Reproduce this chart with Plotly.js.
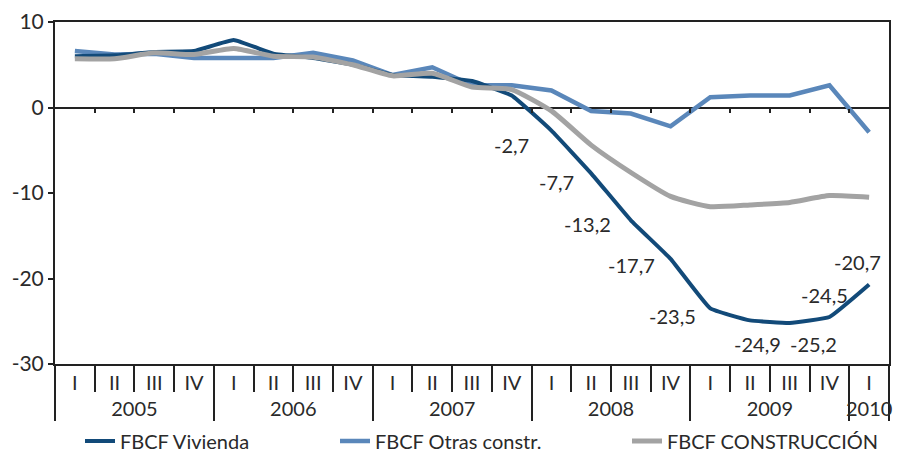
<!DOCTYPE html>
<html>
<head>
<meta charset="utf-8">
<script src="https://cdn.plot.ly/plotly-3.0.1.min.js"></script>
<style>html,body{margin:0;padding:0;background:#fff;}#chart{width:901px;height:454px;}</style>
</head>
<body>
<div id="chart"></div>
<script>
// ---- data ----
var years    = ['2005','2005','2005','2005','2006','2006','2006','2006','2007','2007','2007','2007','2008','2008','2008','2008','2009','2009','2009','2009','2010'];
var quarters = ['I','II','III','IV','I','II','III','IV','I','II','III','IV','I','II','III','IV','I','II','III','IV','I'];
var vivienda     = [6.0, 6.1, 6.5, 6.6, 7.9, 6.3, 5.8, 5.0, 3.8, 3.6, 3.1, 1.4, -2.7, -7.7, -13.2, -17.7, -23.5, -24.9, -25.2, -24.5, -20.7];
var otras        = [6.6, 6.2, 6.3, 5.8, 5.8, 5.8, 6.4, 5.5, 3.8, 4.7, 2.6, 2.6, 2.0, -0.4, -0.7, -2.2, 1.2, 1.4, 1.4, 2.6, -2.9];
var construccion = [5.7, 5.7, 6.4, 6.2, 6.9, 6.0, 5.9, 5.0, 3.7, 4.0, 2.4, 2.1, -0.4, -4.4, -7.6, -10.4, -11.6, -11.4, -11.1, -10.3, -10.5];
var seriesNames  = ['FBCF Vivienda', 'FBCF Otras constr.', 'FBCF CONSTRUCCIÓN'];
var yTickVals    = [-30, -20, -10, 0, 10];
var yTickText    = ['-30', '-20', '-10', '0', '10'];
var labelIdx     = [12, 13, 14, 15, 16, 17, 18, 19, 20];
var labelText    = ['-2,7', '-7,7', '-13,2', '-17,7', '-23,5', '-24,9', '-25,2', '-24,5', '-20,7'];
var labelDx      = [-40, -35, -43, -39, -38, 7, 24, -5, -12];
var labelDy      = [-14, -9, -4, -6, -8, -24, -21, 22, 22];

var FONT = 'Lato, "Open Sans", sans-serif';
var TXT = '#2a2a2a';
var FS = 20;

var traces = [
  {x: [years, quarters], y: otras, name: seriesNames[1], type: 'scatter', mode: 'lines',
   line: {color: '#5a87ba', width: 4.5}, legend: 'legend2', hoverinfo: 'skip'},
  {x: [years, quarters], y: vivienda, name: seriesNames[0], type: 'scatter', mode: 'lines',
   line: {color: '#124a79', width: 4, shape: 'spline', smoothing: 0.3}, legend: 'legend', hoverinfo: 'skip'},
  {x: [years, quarters], y: construccion, name: seriesNames[2], type: 'scatter', mode: 'lines',
   line: {color: '#a3a3a3', width: 5, shape: 'spline', smoothing: 0.5}, legend: 'legend3', hoverinfo: 'skip'},
  {x: [], y: [], xaxis: 'x2', yaxis: 'y', showlegend: false, hoverinfo: 'skip', type: 'scatter'}
];

var n = quarters.length;
var bounds = [];
for (var i = 0; i < n - 1; i++) bounds.push(i + 0.5);

var annotations = labelIdx.map(function (idx, k) {
  return {xref: 'x2', yref: 'y', x: idx, y: vivienda[idx], text: labelText[k], showarrow: false,
          xshift: labelDx[k], yshift: labelDy[k], font: {family: FONT, size: FS, color: TXT}};
});

function legendAt(px) {
  return {orientation: 'h', x: (px - 55) / 834, xanchor: 'left',
          yref: 'container', y: (454 - 441) / 454, yanchor: 'middle',
          font: {family: FONT, size: FS, color: TXT}, bgcolor: 'rgba(0,0,0,0)', borderwidth: 0};
}

var layout = {
  width: 901, height: 454,
  margin: {l: 55, r: 12, t: 22, b: 90},
  paper_bgcolor: '#fff', plot_bgcolor: '#fff',
  font: {family: FONT, size: FS, color: TXT},
  showlegend: true,
  legend: legendAt(80),
  legend2: legendAt(335),
  legend3: legendAt(627),
  xaxis: {
    type: 'multicategory', range: [-0.5, n - 0.5], showgrid: false, zeroline: false, automargin: false,
    showline: true, linecolor: '#222', linewidth: 2, mirror: true,
    ticks: 'outside', tickson: 'boundaries', ticklen: 26, tickwidth: 2, tickcolor: '#222',
    showdividers: true, dividercolor: '#222', dividerwidth: 2,
    tickfont: {family: FONT, size: FS, color: TXT}
  },
  xaxis2: {
    overlaying: 'x', anchor: 'free', position: 0.75, range: [-0.5, n - 0.5], automargin: false,
    showgrid: false, zeroline: false, showline: false, showticklabels: false,
    tickmode: 'array', tickvals: bounds, ticks: 'outside', ticklen: 4, tickwidth: 2, tickcolor: '#222'
  },
  yaxis: {
    range: [-30, 10], tickmode: 'array', tickvals: yTickVals, ticktext: yTickText, automargin: false,
    showgrid: false, zeroline: true, zerolinecolor: '#222', zerolinewidth: 2,
    showline: true, linecolor: '#222', linewidth: 2, mirror: true,
    ticks: 'outside', ticklen: 5, tickwidth: 2, tickcolor: '#222',
    tickfont: {family: FONT, size: 21, color: TXT}
  },
  annotations: annotations
};

Plotly.newPlot('chart', traces, layout, {displayModeBar: false, staticPlot: true});
</script>
</body>
</html>
